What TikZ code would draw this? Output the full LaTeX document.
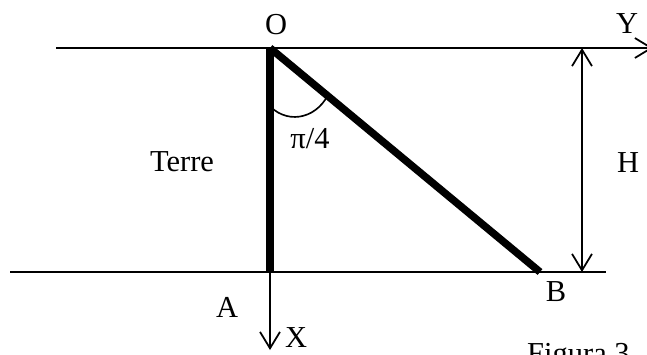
\documentclass[tikz,border=0pt]{standalone}
\usepackage{fontspec}
\setmainfont{Liberation Serif}
\usetikzlibrary{positioning,arrows.meta}
\tikzset{
  fig-lbl/.style={font=\fontsize{26}{30}\selectfont, inner sep=0pt},
  fig-thin/.style={line width=1.7pt, draw=black},
  fig-thick/.style={line width=6.4pt, draw=black},
  fig-arrow/.style={fig-thin, -{Straight Barb[length=14pt,width=17pt,line width=1.5pt]}},
  fig-darrow/.style={fig-thin, {Straight Barb[length=14pt,width=17pt,line width=1.5pt]}-{Straight Barb[length=14pt,width=17pt,line width=1.5pt]}}
}
\begin{document}
\begin{tikzpicture}[x=0.03cm, y=-0.03cm]
\clip (0,0) rectangle (647,354);
\fill[white] (0,0) rectangle (647,354);
% points
\coordinate (topL) at (56,48);
\coordinate (topR) at (653,48);
\coordinate (botL) at (10,272);
\coordinate (botR) at (606,272);
\coordinate (O) at (270,48);
\coordinate (A) at (270,272);
\coordinate (B) at (540,272);
\coordinate (Xend) at (270,350);
\coordinate (Htop) at (582,48);
\coordinate (Hbot) at (582,272);
\coordinate (arcL) at (267,103);
\coordinate (arcR) at (328,95);
% labels
\node[fig-lbl] (lblO) at (276,25) {O};
\node[fig-lbl] (lblY) at (627,24) {Y};
\node[fig-lbl] (lblTerre) at (182,162) {Terre};
\node[fig-lbl] (lblAng) at (310,139) {π/4};
\node[fig-lbl] (lblH) at (628,163) {H};
\node[fig-lbl] (lblA) at (227,307) {A};
\node[fig-lbl] (lblX) at (296,338) {X};
\node[fig-lbl] (lblB) at (556,292) {B};
\node[fig-lbl, anchor=base west] (lblFig) at (527,363) {Figura 3};
% lines
\draw[fig-arrow] (topL) -- (topR);
\draw[fig-thin] (botL) -- (botR);
\draw[fig-arrow] (A) -- (Xend);
\draw[fig-darrow] (Htop) -- (Hbot);
\draw[fig-thick] (O) -- (A);
\draw[fig-thick] (O) -- (B);
\draw[fig-thin, line width=1.4pt] (arcL) .. controls (285,125) and (315,120) .. (arcR);
\end{tikzpicture}
\end{document}
